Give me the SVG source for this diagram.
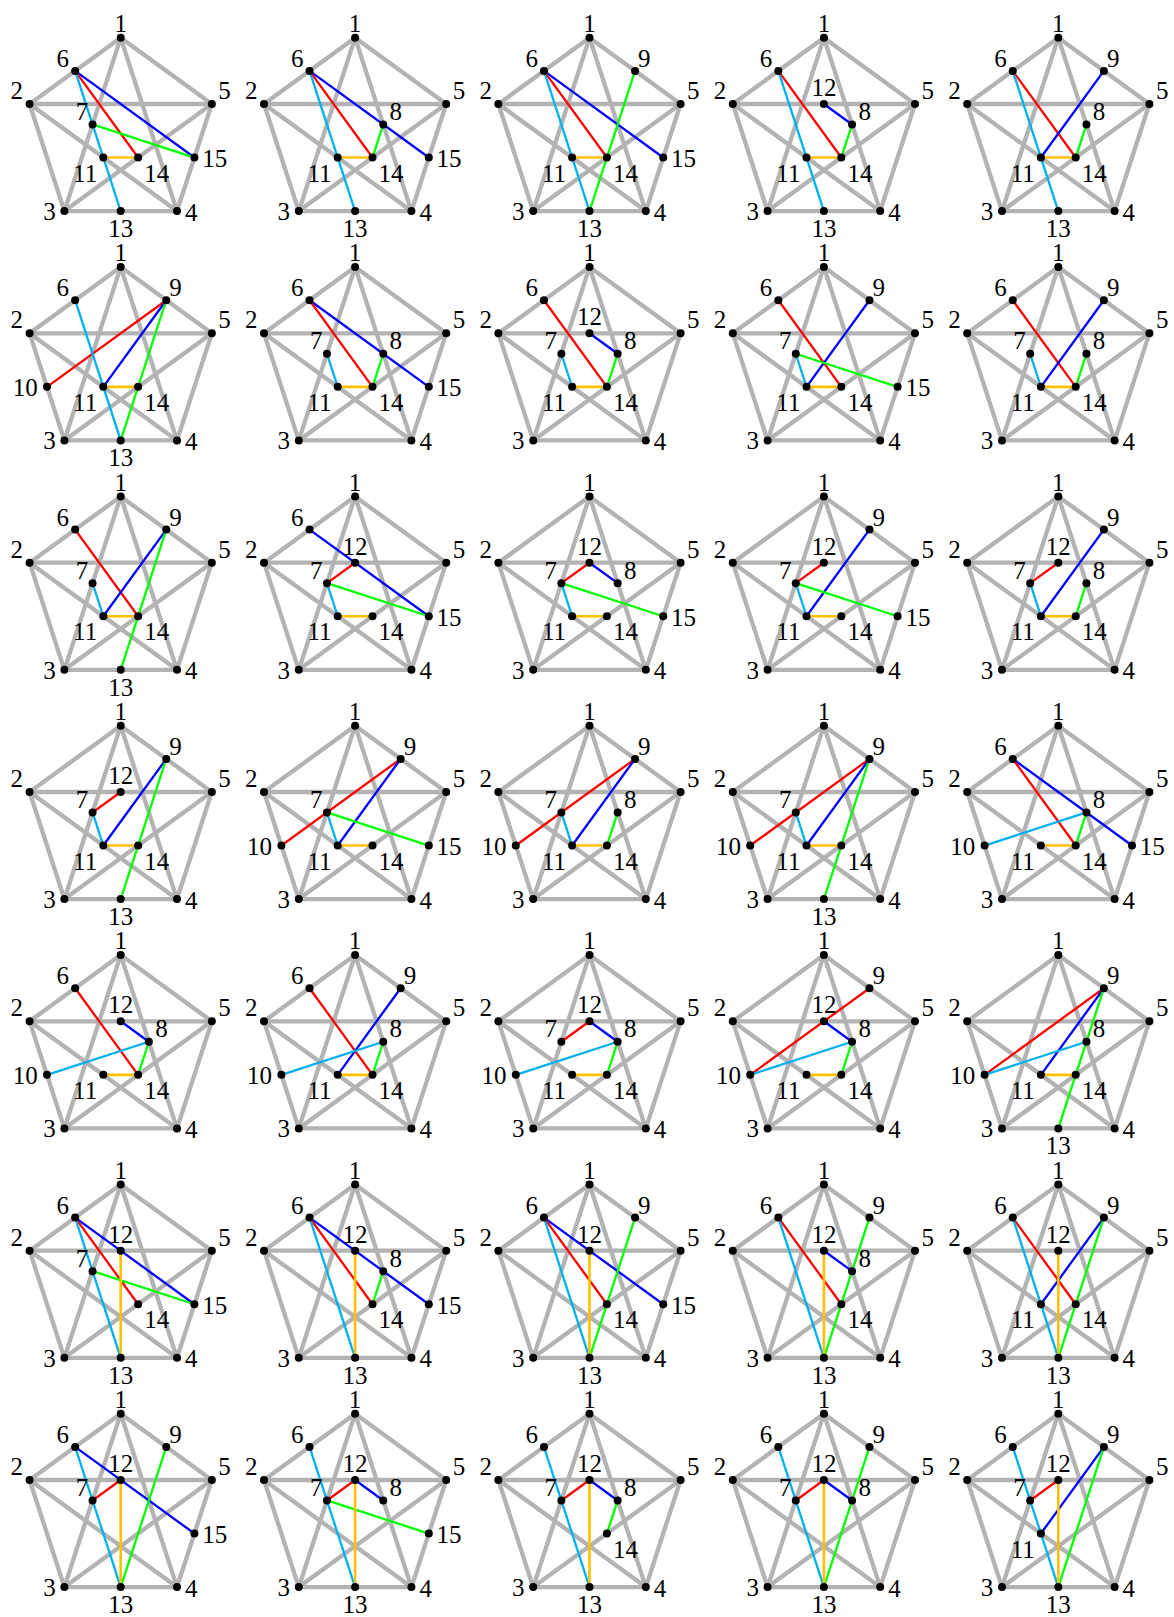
<svg xmlns="http://www.w3.org/2000/svg" xmlns:xlink="http://www.w3.org/1999/xlink" width="1174" height="1617" viewBox="0 0 1174 1617">
<style>
.gr{fill:none;stroke:#b3b3b3;stroke-width:4.3;stroke-linejoin:round}
circle{fill:#000}
text{font-family:"Liberation Serif","Times New Roman",serif;font-size:25px;fill:#000}
.s{text-anchor:start}.m{text-anchor:middle}.e{text-anchor:end}
line{stroke-width:2.3;fill:none}
.R{stroke:#ff0000}.B{stroke:#0000ff}.G{stroke:#00ff00}.C{stroke:#00b0f0}.O{stroke:#ffc000;stroke-width:2.6}
</style>
<defs>
<g id="base">
<polygon class="gr" points="0,-95.8 91.11,-29.6 56.31,77.5 -56.31,77.5 -91.11,-29.6"/>
<polygon class="gr" points="0,-95.8 56.31,77.5 -91.11,-29.6 91.11,-29.6 -56.31,77.5"/>
<circle cx="0" cy="-95.8" r="4"/><circle cx="91.11" cy="-29.6" r="4"/><circle cx="56.31" cy="77.5" r="4"/><circle cx="-56.31" cy="77.5" r="4"/><circle cx="-91.11" cy="-29.6" r="4"/>
</g>
</defs>
<rect width="1174" height="1617" fill="#fff"/>

<!-- Row 1 -->
<g id="r1c1" transform="translate(120.7,133.6)"><use href="#base"/>
<g id="r1c1-edges"><line class="B" x1="-45.56" y1="-62.7" x2="73.71" y2="23.95"/><line class="R" x1="-45.56" y1="-62.7" x2="17.4" y2="23.95"/><line class="C" x1="-45.56" y1="-62.7" x2="0" y2="77.5"/><line class="G" x1="-28.15" y1="-9.15" x2="73.71" y2="23.95"/><line class="O" x1="-17.4" y1="23.95" x2="17.4" y2="23.95"/></g>
<text class="m" x="0" y="-101.8">1</text><text class="e" x="-97.6" y="-34.6">2</text><text class="e" x="-65" y="86.5">3</text><text class="s" x="64.3" y="87">4</text><text class="s" x="97.6" y="-34.6">5</text>
<circle cx="-45.56" cy="-62.7" r="4"/><text class="e" x="-51.6" y="-66.7">6</text>
<circle cx="-28.15" cy="-9.15" r="4"/><text class="e" x="-32.5" y="-13.5">7</text>
<circle cx="-17.4" cy="23.95" r="4"/><text class="e" x="-23.5" y="48.2">11</text>
<circle cx="0" cy="77.5" r="4"/><text class="m" x="0" y="103.5">13</text>
<circle cx="17.4" cy="23.95" r="4"/><text class="s" x="23.5" y="48.2">14</text>
<circle cx="73.71" cy="23.95" r="4"/><text class="s" x="81.5" y="33.3">15</text>
</g>

<g id="r1c2" transform="translate(355.1,133.6)"><use href="#base"/>
<g id="r1c2-edges"><line class="B" x1="-45.56" y1="-62.7" x2="73.71" y2="23.95"/><line class="R" x1="-45.56" y1="-62.7" x2="17.4" y2="23.95"/><line class="C" x1="-45.56" y1="-62.7" x2="0" y2="77.5"/><line class="G" x1="28.15" y1="-9.15" x2="17.4" y2="23.95"/><line class="O" x1="-17.4" y1="23.95" x2="17.4" y2="23.95"/></g>
<text class="m" x="0" y="-101.8">1</text><text class="e" x="-97.6" y="-34.6">2</text><text class="e" x="-65" y="86.5">3</text><text class="s" x="64.3" y="87">4</text><text class="s" x="97.6" y="-34.6">5</text>
<circle cx="-45.56" cy="-62.7" r="4"/><text class="e" x="-51.6" y="-66.7">6</text>
<circle cx="28.15" cy="-9.15" r="4"/><text class="s" x="34.5" y="-13.8">8</text>
<circle cx="-17.4" cy="23.95" r="4"/><text class="e" x="-23.5" y="48.2">11</text>
<circle cx="0" cy="77.5" r="4"/><text class="m" x="0" y="103.5">13</text>
<circle cx="17.4" cy="23.95" r="4"/><text class="s" x="23.5" y="48.2">14</text>
<circle cx="73.71" cy="23.95" r="4"/><text class="s" x="81.5" y="33.3">15</text>
</g>

<g id="r1c3" transform="translate(589.5,133.6)"><use href="#base"/>
<g id="r1c3-edges"><line class="B" x1="-45.56" y1="-62.7" x2="73.71" y2="23.95"/><line class="R" x1="-45.56" y1="-62.7" x2="17.4" y2="23.95"/><line class="C" x1="-45.56" y1="-62.7" x2="0" y2="77.5"/><line class="G" x1="45.56" y1="-62.7" x2="0" y2="77.5"/><line class="O" x1="-17.4" y1="23.95" x2="17.4" y2="23.95"/></g>
<text class="m" x="0" y="-101.8">1</text><text class="e" x="-97.6" y="-34.6">2</text><text class="e" x="-65" y="86.5">3</text><text class="s" x="64.3" y="87">4</text><text class="s" x="97.6" y="-34.6">5</text>
<circle cx="-45.56" cy="-62.7" r="4"/><text class="e" x="-51.6" y="-66.7">6</text>
<circle cx="45.56" cy="-62.7" r="4"/><text class="s" x="48.6" y="-66.7">9</text>
<circle cx="-17.4" cy="23.95" r="4"/><text class="e" x="-23.5" y="48.2">11</text>
<circle cx="0" cy="77.5" r="4"/><text class="m" x="0" y="103.5">13</text>
<circle cx="17.4" cy="23.95" r="4"/><text class="s" x="23.5" y="48.2">14</text>
<circle cx="73.71" cy="23.95" r="4"/><text class="s" x="81.5" y="33.3">15</text>
</g>

<g id="r1c4" transform="translate(823.9,133.6)"><use href="#base"/>
<g id="r1c4-edges"><line class="R" x1="-45.56" y1="-62.7" x2="17.4" y2="23.95"/><line class="C" x1="-45.56" y1="-62.7" x2="0" y2="77.5"/><line class="B" x1="0" y1="-29.6" x2="28.15" y2="-9.15"/><line class="G" x1="28.15" y1="-9.15" x2="17.4" y2="23.95"/><line class="O" x1="-17.4" y1="23.95" x2="17.4" y2="23.95"/></g>
<text class="m" x="0" y="-101.8">1</text><text class="e" x="-97.6" y="-34.6">2</text><text class="e" x="-65" y="86.5">3</text><text class="s" x="64.3" y="87">4</text><text class="s" x="97.6" y="-34.6">5</text>
<circle cx="-45.56" cy="-62.7" r="4"/><text class="e" x="-51.6" y="-66.7">6</text>
<circle cx="28.15" cy="-9.15" r="4"/><text class="s" x="34.5" y="-13.8">8</text>
<circle cx="-17.4" cy="23.95" r="4"/><text class="e" x="-23.5" y="48.2">11</text>
<circle cx="0" cy="-29.6" r="4"/><text class="m" x="0" y="-37.6">12</text>
<circle cx="0" cy="77.5" r="4"/><text class="m" x="0" y="103.5">13</text>
<circle cx="17.4" cy="23.95" r="4"/><text class="s" x="23.5" y="48.2">14</text>
</g>

<g id="r1c5" transform="translate(1058.3,133.6)"><use href="#base"/>
<g id="r1c5-edges"><line class="R" x1="-45.56" y1="-62.7" x2="17.4" y2="23.95"/><line class="C" x1="-45.56" y1="-62.7" x2="0" y2="77.5"/><line class="B" x1="45.56" y1="-62.7" x2="-17.4" y2="23.95"/><line class="G" x1="28.15" y1="-9.15" x2="17.4" y2="23.95"/><line class="O" x1="-17.4" y1="23.95" x2="17.4" y2="23.95"/></g>
<text class="m" x="0" y="-101.8">1</text><text class="e" x="-97.6" y="-34.6">2</text><text class="e" x="-65" y="86.5">3</text><text class="s" x="64.3" y="87">4</text><text class="s" x="97.6" y="-34.6">5</text>
<circle cx="-45.56" cy="-62.7" r="4"/><text class="e" x="-51.6" y="-66.7">6</text>
<circle cx="28.15" cy="-9.15" r="4"/><text class="s" x="34.5" y="-13.8">8</text>
<circle cx="45.56" cy="-62.7" r="4"/><text class="s" x="48.6" y="-66.7">9</text>
<circle cx="-17.4" cy="23.95" r="4"/><text class="e" x="-23.5" y="48.2">11</text>
<circle cx="0" cy="77.5" r="4"/><text class="m" x="0" y="103.5">13</text>
<circle cx="17.4" cy="23.95" r="4"/><text class="s" x="23.5" y="48.2">14</text>
</g>

<!-- Row 2 -->
<g id="r2c1" transform="translate(120.7,362.9)"><use href="#base"/>
<g id="r2c1-edges"><line class="R" x1="-73.71" y1="23.95" x2="45.56" y2="-62.7"/><line class="C" x1="-45.56" y1="-62.7" x2="0" y2="77.5"/><line class="B" x1="45.56" y1="-62.7" x2="-17.4" y2="23.95"/><line class="G" x1="45.56" y1="-62.7" x2="0" y2="77.5"/><line class="O" x1="-17.4" y1="23.95" x2="17.4" y2="23.95"/></g>
<text class="m" x="0" y="-101.8">1</text><text class="e" x="-97.6" y="-34.6">2</text><text class="e" x="-65" y="86.5">3</text><text class="s" x="64.3" y="87">4</text><text class="s" x="97.6" y="-34.6">5</text>
<circle cx="-45.56" cy="-62.7" r="4"/><text class="e" x="-51.6" y="-66.7">6</text>
<circle cx="45.56" cy="-62.7" r="4"/><text class="s" x="48.6" y="-66.7">9</text>
<circle cx="-73.71" cy="23.95" r="4"/><text class="e" x="-83" y="33">10</text>
<circle cx="-17.4" cy="23.95" r="4"/><text class="e" x="-23.5" y="48.2">11</text>
<circle cx="0" cy="77.5" r="4"/><text class="m" x="0" y="103.5">13</text>
<circle cx="17.4" cy="23.95" r="4"/><text class="s" x="23.5" y="48.2">14</text>
</g>

<g id="r2c2" transform="translate(355.1,362.9)"><use href="#base"/>
<g id="r2c2-edges"><line class="B" x1="-45.56" y1="-62.7" x2="73.71" y2="23.95"/><line class="R" x1="-45.56" y1="-62.7" x2="17.4" y2="23.95"/><line class="C" x1="-28.15" y1="-9.15" x2="-17.4" y2="23.95"/><line class="G" x1="28.15" y1="-9.15" x2="17.4" y2="23.95"/><line class="O" x1="-17.4" y1="23.95" x2="17.4" y2="23.95"/></g>
<text class="m" x="0" y="-101.8">1</text><text class="e" x="-97.6" y="-34.6">2</text><text class="e" x="-65" y="86.5">3</text><text class="s" x="64.3" y="87">4</text><text class="s" x="97.6" y="-34.6">5</text>
<circle cx="-45.56" cy="-62.7" r="4"/><text class="e" x="-51.6" y="-66.7">6</text>
<circle cx="-28.15" cy="-9.15" r="4"/><text class="e" x="-32.5" y="-13.5">7</text>
<circle cx="28.15" cy="-9.15" r="4"/><text class="s" x="34.5" y="-13.8">8</text>
<circle cx="-17.4" cy="23.95" r="4"/><text class="e" x="-23.5" y="48.2">11</text>
<circle cx="17.4" cy="23.95" r="4"/><text class="s" x="23.5" y="48.2">14</text>
<circle cx="73.71" cy="23.95" r="4"/><text class="s" x="81.5" y="33.3">15</text>
</g>

<g id="r2c3" transform="translate(589.5,362.9)"><use href="#base"/>
<g id="r2c3-edges"><line class="R" x1="-45.56" y1="-62.7" x2="17.4" y2="23.95"/><line class="B" x1="0" y1="-29.6" x2="28.15" y2="-9.15"/><line class="C" x1="-28.15" y1="-9.15" x2="-17.4" y2="23.95"/><line class="G" x1="28.15" y1="-9.15" x2="17.4" y2="23.95"/><line class="O" x1="-17.4" y1="23.95" x2="17.4" y2="23.95"/></g>
<text class="m" x="0" y="-101.8">1</text><text class="e" x="-97.6" y="-34.6">2</text><text class="e" x="-65" y="86.5">3</text><text class="s" x="64.3" y="87">4</text><text class="s" x="97.6" y="-34.6">5</text>
<circle cx="-45.56" cy="-62.7" r="4"/><text class="e" x="-51.6" y="-66.7">6</text>
<circle cx="-28.15" cy="-9.15" r="4"/><text class="e" x="-32.5" y="-13.5">7</text>
<circle cx="28.15" cy="-9.15" r="4"/><text class="s" x="34.5" y="-13.8">8</text>
<circle cx="-17.4" cy="23.95" r="4"/><text class="e" x="-23.5" y="48.2">11</text>
<circle cx="0" cy="-29.6" r="4"/><text class="m" x="0" y="-37.6">12</text>
<circle cx="17.4" cy="23.95" r="4"/><text class="s" x="23.5" y="48.2">14</text>
</g>

<g id="r2c4" transform="translate(823.9,362.9)"><use href="#base"/>
<g id="r2c4-edges"><line class="R" x1="-45.56" y1="-62.7" x2="17.4" y2="23.95"/><line class="B" x1="45.56" y1="-62.7" x2="-17.4" y2="23.95"/><line class="C" x1="-28.15" y1="-9.15" x2="-17.4" y2="23.95"/><line class="G" x1="-28.15" y1="-9.15" x2="73.71" y2="23.95"/><line class="O" x1="-17.4" y1="23.95" x2="17.4" y2="23.95"/></g>
<text class="m" x="0" y="-101.8">1</text><text class="e" x="-97.6" y="-34.6">2</text><text class="e" x="-65" y="86.5">3</text><text class="s" x="64.3" y="87">4</text><text class="s" x="97.6" y="-34.6">5</text>
<circle cx="-45.56" cy="-62.7" r="4"/><text class="e" x="-51.6" y="-66.7">6</text>
<circle cx="-28.15" cy="-9.15" r="4"/><text class="e" x="-32.5" y="-13.5">7</text>
<circle cx="45.56" cy="-62.7" r="4"/><text class="s" x="48.6" y="-66.7">9</text>
<circle cx="-17.4" cy="23.95" r="4"/><text class="e" x="-23.5" y="48.2">11</text>
<circle cx="17.4" cy="23.95" r="4"/><text class="s" x="23.5" y="48.2">14</text>
<circle cx="73.71" cy="23.95" r="4"/><text class="s" x="81.5" y="33.3">15</text>
</g>

<g id="r2c5" transform="translate(1058.3,362.9)"><use href="#base"/>
<g id="r2c5-edges"><line class="R" x1="-45.56" y1="-62.7" x2="17.4" y2="23.95"/><line class="B" x1="45.56" y1="-62.7" x2="-17.4" y2="23.95"/><line class="C" x1="-28.15" y1="-9.15" x2="-17.4" y2="23.95"/><line class="G" x1="28.15" y1="-9.15" x2="17.4" y2="23.95"/><line class="O" x1="-17.4" y1="23.95" x2="17.4" y2="23.95"/></g>
<text class="m" x="0" y="-101.8">1</text><text class="e" x="-97.6" y="-34.6">2</text><text class="e" x="-65" y="86.5">3</text><text class="s" x="64.3" y="87">4</text><text class="s" x="97.6" y="-34.6">5</text>
<circle cx="-45.56" cy="-62.7" r="4"/><text class="e" x="-51.6" y="-66.7">6</text>
<circle cx="-28.15" cy="-9.15" r="4"/><text class="e" x="-32.5" y="-13.5">7</text>
<circle cx="28.15" cy="-9.15" r="4"/><text class="s" x="34.5" y="-13.8">8</text>
<circle cx="45.56" cy="-62.7" r="4"/><text class="s" x="48.6" y="-66.7">9</text>
<circle cx="-17.4" cy="23.95" r="4"/><text class="e" x="-23.5" y="48.2">11</text>
<circle cx="17.4" cy="23.95" r="4"/><text class="s" x="23.5" y="48.2">14</text>
</g>

<!-- Row 3 -->
<g id="r3c1" transform="translate(120.7,592.3)"><use href="#base"/>
<g id="r3c1-edges"><line class="R" x1="-45.56" y1="-62.7" x2="17.4" y2="23.95"/><line class="B" x1="45.56" y1="-62.7" x2="-17.4" y2="23.95"/><line class="C" x1="-28.15" y1="-9.15" x2="-17.4" y2="23.95"/><line class="G" x1="45.56" y1="-62.7" x2="0" y2="77.5"/><line class="O" x1="-17.4" y1="23.95" x2="17.4" y2="23.95"/></g>
<text class="m" x="0" y="-101.8">1</text><text class="e" x="-97.6" y="-34.6">2</text><text class="e" x="-65" y="86.5">3</text><text class="s" x="64.3" y="87">4</text><text class="s" x="97.6" y="-34.6">5</text>
<circle cx="-45.56" cy="-62.7" r="4"/><text class="e" x="-51.6" y="-66.7">6</text>
<circle cx="-28.15" cy="-9.15" r="4"/><text class="e" x="-32.5" y="-13.5">7</text>
<circle cx="45.56" cy="-62.7" r="4"/><text class="s" x="48.6" y="-66.7">9</text>
<circle cx="-17.4" cy="23.95" r="4"/><text class="e" x="-23.5" y="48.2">11</text>
<circle cx="0" cy="77.5" r="4"/><text class="m" x="0" y="103.5">13</text>
<circle cx="17.4" cy="23.95" r="4"/><text class="s" x="23.5" y="48.2">14</text>
</g>

<g id="r3c2" transform="translate(355.1,592.3)"><use href="#base"/>
<g id="r3c2-edges"><line class="B" x1="-45.56" y1="-62.7" x2="73.71" y2="23.95"/><line class="R" x1="-28.15" y1="-9.15" x2="0" y2="-29.6"/><line class="G" x1="-28.15" y1="-9.15" x2="73.71" y2="23.95"/><line class="C" x1="-28.15" y1="-9.15" x2="-17.4" y2="23.95"/><line class="O" x1="-17.4" y1="23.95" x2="17.4" y2="23.95"/></g>
<text class="m" x="0" y="-101.8">1</text><text class="e" x="-97.6" y="-34.6">2</text><text class="e" x="-65" y="86.5">3</text><text class="s" x="64.3" y="87">4</text><text class="s" x="97.6" y="-34.6">5</text>
<circle cx="-45.56" cy="-62.7" r="4"/><text class="e" x="-51.6" y="-66.7">6</text>
<circle cx="-28.15" cy="-9.15" r="4"/><text class="e" x="-32.5" y="-13.5">7</text>
<circle cx="-17.4" cy="23.95" r="4"/><text class="e" x="-23.5" y="48.2">11</text>
<circle cx="0" cy="-29.6" r="4"/><text class="m" x="0" y="-37.6">12</text>
<circle cx="17.4" cy="23.95" r="4"/><text class="s" x="23.5" y="48.2">14</text>
<circle cx="73.71" cy="23.95" r="4"/><text class="s" x="81.5" y="33.3">15</text>
</g>

<g id="r3c3" transform="translate(589.5,592.3)"><use href="#base"/>
<g id="r3c3-edges"><line class="R" x1="-28.15" y1="-9.15" x2="0" y2="-29.6"/><line class="B" x1="0" y1="-29.6" x2="28.15" y2="-9.15"/><line class="G" x1="-28.15" y1="-9.15" x2="73.71" y2="23.95"/><line class="C" x1="-28.15" y1="-9.15" x2="-17.4" y2="23.95"/><line class="O" x1="-17.4" y1="23.95" x2="17.4" y2="23.95"/></g>
<text class="m" x="0" y="-101.8">1</text><text class="e" x="-97.6" y="-34.6">2</text><text class="e" x="-65" y="86.5">3</text><text class="s" x="64.3" y="87">4</text><text class="s" x="97.6" y="-34.6">5</text>
<circle cx="-28.15" cy="-9.15" r="4"/><text class="e" x="-32.5" y="-13.5">7</text>
<circle cx="28.15" cy="-9.15" r="4"/><text class="s" x="34.5" y="-13.8">8</text>
<circle cx="-17.4" cy="23.95" r="4"/><text class="e" x="-23.5" y="48.2">11</text>
<circle cx="0" cy="-29.6" r="4"/><text class="m" x="0" y="-37.6">12</text>
<circle cx="17.4" cy="23.95" r="4"/><text class="s" x="23.5" y="48.2">14</text>
<circle cx="73.71" cy="23.95" r="4"/><text class="s" x="81.5" y="33.3">15</text>
</g>

<g id="r3c4" transform="translate(823.9,592.3)"><use href="#base"/>
<g id="r3c4-edges"><line class="R" x1="-28.15" y1="-9.15" x2="0" y2="-29.6"/><line class="B" x1="45.56" y1="-62.7" x2="-17.4" y2="23.95"/><line class="G" x1="-28.15" y1="-9.15" x2="73.71" y2="23.95"/><line class="C" x1="-28.15" y1="-9.15" x2="-17.4" y2="23.95"/><line class="O" x1="-17.4" y1="23.95" x2="17.4" y2="23.95"/></g>
<text class="m" x="0" y="-101.8">1</text><text class="e" x="-97.6" y="-34.6">2</text><text class="e" x="-65" y="86.5">3</text><text class="s" x="64.3" y="87">4</text><text class="s" x="97.6" y="-34.6">5</text>
<circle cx="-28.15" cy="-9.15" r="4"/><text class="e" x="-32.5" y="-13.5">7</text>
<circle cx="45.56" cy="-62.7" r="4"/><text class="s" x="48.6" y="-66.7">9</text>
<circle cx="-17.4" cy="23.95" r="4"/><text class="e" x="-23.5" y="48.2">11</text>
<circle cx="0" cy="-29.6" r="4"/><text class="m" x="0" y="-37.6">12</text>
<circle cx="17.4" cy="23.95" r="4"/><text class="s" x="23.5" y="48.2">14</text>
<circle cx="73.71" cy="23.95" r="4"/><text class="s" x="81.5" y="33.3">15</text>
</g>

<g id="r3c5" transform="translate(1058.3,592.3)"><use href="#base"/>
<g id="r3c5-edges"><line class="R" x1="-28.15" y1="-9.15" x2="0" y2="-29.6"/><line class="B" x1="45.56" y1="-62.7" x2="-17.4" y2="23.95"/><line class="G" x1="28.15" y1="-9.15" x2="17.4" y2="23.95"/><line class="C" x1="-28.15" y1="-9.15" x2="-17.4" y2="23.95"/><line class="O" x1="-17.4" y1="23.95" x2="17.4" y2="23.95"/></g>
<text class="m" x="0" y="-101.8">1</text><text class="e" x="-97.6" y="-34.6">2</text><text class="e" x="-65" y="86.5">3</text><text class="s" x="64.3" y="87">4</text><text class="s" x="97.6" y="-34.6">5</text>
<circle cx="-28.15" cy="-9.15" r="4"/><text class="e" x="-32.5" y="-13.5">7</text>
<circle cx="28.15" cy="-9.15" r="4"/><text class="s" x="34.5" y="-13.8">8</text>
<circle cx="45.56" cy="-62.7" r="4"/><text class="s" x="48.6" y="-66.7">9</text>
<circle cx="-17.4" cy="23.95" r="4"/><text class="e" x="-23.5" y="48.2">11</text>
<circle cx="0" cy="-29.6" r="4"/><text class="m" x="0" y="-37.6">12</text>
<circle cx="17.4" cy="23.95" r="4"/><text class="s" x="23.5" y="48.2">14</text>
</g>

<!-- Row 4 -->
<g id="r4c1" transform="translate(120.7,821.6)"><use href="#base"/>
<g id="r4c1-edges"><line class="R" x1="-28.15" y1="-9.15" x2="0" y2="-29.6"/><line class="B" x1="45.56" y1="-62.7" x2="-17.4" y2="23.95"/><line class="G" x1="45.56" y1="-62.7" x2="0" y2="77.5"/><line class="C" x1="-28.15" y1="-9.15" x2="-17.4" y2="23.95"/><line class="O" x1="-17.4" y1="23.95" x2="17.4" y2="23.95"/></g>
<text class="m" x="0" y="-101.8">1</text><text class="e" x="-97.6" y="-34.6">2</text><text class="e" x="-65" y="86.5">3</text><text class="s" x="64.3" y="87">4</text><text class="s" x="97.6" y="-34.6">5</text>
<circle cx="-28.15" cy="-9.15" r="4"/><text class="e" x="-32.5" y="-13.5">7</text>
<circle cx="45.56" cy="-62.7" r="4"/><text class="s" x="48.6" y="-66.7">9</text>
<circle cx="-17.4" cy="23.95" r="4"/><text class="e" x="-23.5" y="48.2">11</text>
<circle cx="0" cy="-29.6" r="4"/><text class="m" x="0" y="-37.6">12</text>
<circle cx="0" cy="77.5" r="4"/><text class="m" x="0" y="103.5">13</text>
<circle cx="17.4" cy="23.95" r="4"/><text class="s" x="23.5" y="48.2">14</text>
</g>

<g id="r4c2" transform="translate(355.1,821.6)"><use href="#base"/>
<g id="r4c2-edges"><line class="R" x1="-73.71" y1="23.95" x2="45.56" y2="-62.7"/><line class="B" x1="45.56" y1="-62.7" x2="-17.4" y2="23.95"/><line class="G" x1="-28.15" y1="-9.15" x2="73.71" y2="23.95"/><line class="C" x1="-28.15" y1="-9.15" x2="-17.4" y2="23.95"/><line class="O" x1="-17.4" y1="23.95" x2="17.4" y2="23.95"/></g>
<text class="m" x="0" y="-101.8">1</text><text class="e" x="-97.6" y="-34.6">2</text><text class="e" x="-65" y="86.5">3</text><text class="s" x="64.3" y="87">4</text><text class="s" x="97.6" y="-34.6">5</text>
<circle cx="-28.15" cy="-9.15" r="4"/><text class="e" x="-32.5" y="-13.5">7</text>
<circle cx="45.56" cy="-62.7" r="4"/><text class="s" x="48.6" y="-66.7">9</text>
<circle cx="-73.71" cy="23.95" r="4"/><text class="e" x="-83" y="33">10</text>
<circle cx="-17.4" cy="23.95" r="4"/><text class="e" x="-23.5" y="48.2">11</text>
<circle cx="17.4" cy="23.95" r="4"/><text class="s" x="23.5" y="48.2">14</text>
<circle cx="73.71" cy="23.95" r="4"/><text class="s" x="81.5" y="33.3">15</text>
</g>

<g id="r4c3" transform="translate(589.5,821.6)"><use href="#base"/>
<g id="r4c3-edges"><line class="R" x1="-73.71" y1="23.95" x2="45.56" y2="-62.7"/><line class="B" x1="45.56" y1="-62.7" x2="-17.4" y2="23.95"/><line class="G" x1="28.15" y1="-9.15" x2="17.4" y2="23.95"/><line class="C" x1="-28.15" y1="-9.15" x2="-17.4" y2="23.95"/><line class="O" x1="-17.4" y1="23.95" x2="17.4" y2="23.95"/></g>
<text class="m" x="0" y="-101.8">1</text><text class="e" x="-97.6" y="-34.6">2</text><text class="e" x="-65" y="86.5">3</text><text class="s" x="64.3" y="87">4</text><text class="s" x="97.6" y="-34.6">5</text>
<circle cx="-28.15" cy="-9.15" r="4"/><text class="e" x="-32.5" y="-13.5">7</text>
<circle cx="28.15" cy="-9.15" r="4"/><text class="s" x="34.5" y="-13.8">8</text>
<circle cx="45.56" cy="-62.7" r="4"/><text class="s" x="48.6" y="-66.7">9</text>
<circle cx="-73.71" cy="23.95" r="4"/><text class="e" x="-83" y="33">10</text>
<circle cx="-17.4" cy="23.95" r="4"/><text class="e" x="-23.5" y="48.2">11</text>
<circle cx="17.4" cy="23.95" r="4"/><text class="s" x="23.5" y="48.2">14</text>
</g>

<g id="r4c4" transform="translate(823.9,821.6)"><use href="#base"/>
<g id="r4c4-edges"><line class="R" x1="-73.71" y1="23.95" x2="45.56" y2="-62.7"/><line class="B" x1="45.56" y1="-62.7" x2="-17.4" y2="23.95"/><line class="G" x1="45.56" y1="-62.7" x2="0" y2="77.5"/><line class="C" x1="-28.15" y1="-9.15" x2="-17.4" y2="23.95"/><line class="O" x1="-17.4" y1="23.95" x2="17.4" y2="23.95"/></g>
<text class="m" x="0" y="-101.8">1</text><text class="e" x="-97.6" y="-34.6">2</text><text class="e" x="-65" y="86.5">3</text><text class="s" x="64.3" y="87">4</text><text class="s" x="97.6" y="-34.6">5</text>
<circle cx="-28.15" cy="-9.15" r="4"/><text class="e" x="-32.5" y="-13.5">7</text>
<circle cx="45.56" cy="-62.7" r="4"/><text class="s" x="48.6" y="-66.7">9</text>
<circle cx="-73.71" cy="23.95" r="4"/><text class="e" x="-83" y="33">10</text>
<circle cx="-17.4" cy="23.95" r="4"/><text class="e" x="-23.5" y="48.2">11</text>
<circle cx="0" cy="77.5" r="4"/><text class="m" x="0" y="103.5">13</text>
<circle cx="17.4" cy="23.95" r="4"/><text class="s" x="23.5" y="48.2">14</text>
</g>

<g id="r4c5" transform="translate(1058.3,821.6)"><use href="#base"/>
<g id="r4c5-edges"><line class="B" x1="-45.56" y1="-62.7" x2="73.71" y2="23.95"/><line class="R" x1="-45.56" y1="-62.7" x2="17.4" y2="23.95"/><line class="C" x1="-73.71" y1="23.95" x2="28.15" y2="-9.15"/><line class="G" x1="28.15" y1="-9.15" x2="17.4" y2="23.95"/><line class="O" x1="-17.4" y1="23.95" x2="17.4" y2="23.95"/></g>
<text class="m" x="0" y="-101.8">1</text><text class="e" x="-97.6" y="-34.6">2</text><text class="e" x="-65" y="86.5">3</text><text class="s" x="64.3" y="87">4</text><text class="s" x="97.6" y="-34.6">5</text>
<circle cx="-45.56" cy="-62.7" r="4"/><text class="e" x="-51.6" y="-66.7">6</text>
<circle cx="28.15" cy="-9.15" r="4"/><text class="s" x="34.5" y="-13.8">8</text>
<circle cx="-73.71" cy="23.95" r="4"/><text class="e" x="-83" y="33">10</text>
<circle cx="-17.4" cy="23.95" r="4"/><text class="e" x="-23.5" y="48.2">11</text>
<circle cx="17.4" cy="23.95" r="4"/><text class="s" x="23.5" y="48.2">14</text>
<circle cx="73.71" cy="23.95" r="4"/><text class="s" x="81.5" y="33.3">15</text>
</g>

<!-- Row 5 -->
<g id="r5c1" transform="translate(120.7,1050.9)"><use href="#base"/>
<g id="r5c1-edges"><line class="R" x1="-45.56" y1="-62.7" x2="17.4" y2="23.95"/><line class="B" x1="0" y1="-29.6" x2="28.15" y2="-9.15"/><line class="C" x1="-73.71" y1="23.95" x2="28.15" y2="-9.15"/><line class="G" x1="28.15" y1="-9.15" x2="17.4" y2="23.95"/><line class="O" x1="-17.4" y1="23.95" x2="17.4" y2="23.95"/></g>
<text class="m" x="0" y="-101.8">1</text><text class="e" x="-97.6" y="-34.6">2</text><text class="e" x="-65" y="86.5">3</text><text class="s" x="64.3" y="87">4</text><text class="s" x="97.6" y="-34.6">5</text>
<circle cx="-45.56" cy="-62.7" r="4"/><text class="e" x="-51.6" y="-66.7">6</text>
<circle cx="28.15" cy="-9.15" r="4"/><text class="s" x="34.5" y="-13.8">8</text>
<circle cx="-73.71" cy="23.95" r="4"/><text class="e" x="-83" y="33">10</text>
<circle cx="-17.4" cy="23.95" r="4"/><text class="e" x="-23.5" y="48.2">11</text>
<circle cx="0" cy="-29.6" r="4"/><text class="m" x="0" y="-37.6">12</text>
<circle cx="17.4" cy="23.95" r="4"/><text class="s" x="23.5" y="48.2">14</text>
</g>

<g id="r5c2" transform="translate(355.1,1050.9)"><use href="#base"/>
<g id="r5c2-edges"><line class="R" x1="-45.56" y1="-62.7" x2="17.4" y2="23.95"/><line class="B" x1="45.56" y1="-62.7" x2="-17.4" y2="23.95"/><line class="C" x1="-73.71" y1="23.95" x2="28.15" y2="-9.15"/><line class="G" x1="28.15" y1="-9.15" x2="17.4" y2="23.95"/><line class="O" x1="-17.4" y1="23.95" x2="17.4" y2="23.95"/></g>
<text class="m" x="0" y="-101.8">1</text><text class="e" x="-97.6" y="-34.6">2</text><text class="e" x="-65" y="86.5">3</text><text class="s" x="64.3" y="87">4</text><text class="s" x="97.6" y="-34.6">5</text>
<circle cx="-45.56" cy="-62.7" r="4"/><text class="e" x="-51.6" y="-66.7">6</text>
<circle cx="28.15" cy="-9.15" r="4"/><text class="s" x="34.5" y="-13.8">8</text>
<circle cx="45.56" cy="-62.7" r="4"/><text class="s" x="48.6" y="-66.7">9</text>
<circle cx="-73.71" cy="23.95" r="4"/><text class="e" x="-83" y="33">10</text>
<circle cx="-17.4" cy="23.95" r="4"/><text class="e" x="-23.5" y="48.2">11</text>
<circle cx="17.4" cy="23.95" r="4"/><text class="s" x="23.5" y="48.2">14</text>
</g>

<g id="r5c3" transform="translate(589.5,1050.9)"><use href="#base"/>
<g id="r5c3-edges"><line class="R" x1="-28.15" y1="-9.15" x2="0" y2="-29.6"/><line class="B" x1="0" y1="-29.6" x2="28.15" y2="-9.15"/><line class="C" x1="-73.71" y1="23.95" x2="28.15" y2="-9.15"/><line class="G" x1="28.15" y1="-9.15" x2="17.4" y2="23.95"/><line class="O" x1="-17.4" y1="23.95" x2="17.4" y2="23.95"/></g>
<text class="m" x="0" y="-101.8">1</text><text class="e" x="-97.6" y="-34.6">2</text><text class="e" x="-65" y="86.5">3</text><text class="s" x="64.3" y="87">4</text><text class="s" x="97.6" y="-34.6">5</text>
<circle cx="-28.15" cy="-9.15" r="4"/><text class="e" x="-32.5" y="-13.5">7</text>
<circle cx="28.15" cy="-9.15" r="4"/><text class="s" x="34.5" y="-13.8">8</text>
<circle cx="-73.71" cy="23.95" r="4"/><text class="e" x="-83" y="33">10</text>
<circle cx="-17.4" cy="23.95" r="4"/><text class="e" x="-23.5" y="48.2">11</text>
<circle cx="0" cy="-29.6" r="4"/><text class="m" x="0" y="-37.6">12</text>
<circle cx="17.4" cy="23.95" r="4"/><text class="s" x="23.5" y="48.2">14</text>
</g>

<g id="r5c4" transform="translate(823.9,1050.9)"><use href="#base"/>
<g id="r5c4-edges"><line class="R" x1="-73.71" y1="23.95" x2="45.56" y2="-62.7"/><line class="B" x1="0" y1="-29.6" x2="28.15" y2="-9.15"/><line class="C" x1="-73.71" y1="23.95" x2="28.15" y2="-9.15"/><line class="G" x1="28.15" y1="-9.15" x2="17.4" y2="23.95"/><line class="O" x1="-17.4" y1="23.95" x2="17.4" y2="23.95"/></g>
<text class="m" x="0" y="-101.8">1</text><text class="e" x="-97.6" y="-34.6">2</text><text class="e" x="-65" y="86.5">3</text><text class="s" x="64.3" y="87">4</text><text class="s" x="97.6" y="-34.6">5</text>
<circle cx="28.15" cy="-9.15" r="4"/><text class="s" x="34.5" y="-13.8">8</text>
<circle cx="45.56" cy="-62.7" r="4"/><text class="s" x="48.6" y="-66.7">9</text>
<circle cx="-73.71" cy="23.95" r="4"/><text class="e" x="-83" y="33">10</text>
<circle cx="-17.4" cy="23.95" r="4"/><text class="e" x="-23.5" y="48.2">11</text>
<circle cx="0" cy="-29.6" r="4"/><text class="m" x="0" y="-37.6">12</text>
<circle cx="17.4" cy="23.95" r="4"/><text class="s" x="23.5" y="48.2">14</text>
</g>

<g id="r5c5" transform="translate(1058.3,1050.9)"><use href="#base"/>
<g id="r5c5-edges"><line class="R" x1="-73.71" y1="23.95" x2="45.56" y2="-62.7"/><line class="B" x1="45.56" y1="-62.7" x2="-17.4" y2="23.95"/><line class="C" x1="-73.71" y1="23.95" x2="28.15" y2="-9.15"/><line class="G" x1="45.56" y1="-62.7" x2="0" y2="77.5"/><line class="O" x1="-17.4" y1="23.95" x2="17.4" y2="23.95"/></g>
<text class="m" x="0" y="-101.8">1</text><text class="e" x="-97.6" y="-34.6">2</text><text class="e" x="-65" y="86.5">3</text><text class="s" x="64.3" y="87">4</text><text class="s" x="97.6" y="-34.6">5</text>
<circle cx="28.15" cy="-9.15" r="4"/><text class="s" x="34.5" y="-13.8">8</text>
<circle cx="45.56" cy="-62.7" r="4"/><text class="s" x="48.6" y="-66.7">9</text>
<circle cx="-73.71" cy="23.95" r="4"/><text class="e" x="-83" y="33">10</text>
<circle cx="-17.4" cy="23.95" r="4"/><text class="e" x="-23.5" y="48.2">11</text>
<circle cx="0" cy="77.5" r="4"/><text class="m" x="0" y="103.5">13</text>
<circle cx="17.4" cy="23.95" r="4"/><text class="s" x="23.5" y="48.2">14</text>
</g>

<!-- Row 6 -->
<g id="r6c1" transform="translate(120.7,1280.3)"><use href="#base"/>
<g id="r6c1-edges"><line class="B" x1="-45.56" y1="-62.7" x2="73.71" y2="23.95"/><line class="R" x1="-45.56" y1="-62.7" x2="17.4" y2="23.95"/><line class="C" x1="-45.56" y1="-62.7" x2="0" y2="77.5"/><line class="G" x1="-28.15" y1="-9.15" x2="73.71" y2="23.95"/><line class="O" x1="0" y1="-29.6" x2="0" y2="77.5"/></g>
<text class="m" x="0" y="-101.8">1</text><text class="e" x="-97.6" y="-34.6">2</text><text class="e" x="-65" y="86.5">3</text><text class="s" x="64.3" y="87">4</text><text class="s" x="97.6" y="-34.6">5</text>
<circle cx="-45.56" cy="-62.7" r="4"/><text class="e" x="-51.6" y="-66.7">6</text>
<circle cx="-28.15" cy="-9.15" r="4"/><text class="e" x="-32.5" y="-13.5">7</text>
<circle cx="0" cy="-29.6" r="4"/><text class="m" x="0" y="-37.6">12</text>
<circle cx="0" cy="77.5" r="4"/><text class="m" x="0" y="103.5">13</text>
<circle cx="17.4" cy="23.95" r="4"/><text class="s" x="23.5" y="48.2">14</text>
<circle cx="73.71" cy="23.95" r="4"/><text class="s" x="81.5" y="33.3">15</text>
</g>

<g id="r6c2" transform="translate(355.1,1280.3)"><use href="#base"/>
<g id="r6c2-edges"><line class="B" x1="-45.56" y1="-62.7" x2="73.71" y2="23.95"/><line class="R" x1="-45.56" y1="-62.7" x2="17.4" y2="23.95"/><line class="C" x1="-45.56" y1="-62.7" x2="0" y2="77.5"/><line class="G" x1="28.15" y1="-9.15" x2="17.4" y2="23.95"/><line class="O" x1="0" y1="-29.6" x2="0" y2="77.5"/></g>
<text class="m" x="0" y="-101.8">1</text><text class="e" x="-97.6" y="-34.6">2</text><text class="e" x="-65" y="86.5">3</text><text class="s" x="64.3" y="87">4</text><text class="s" x="97.6" y="-34.6">5</text>
<circle cx="-45.56" cy="-62.7" r="4"/><text class="e" x="-51.6" y="-66.7">6</text>
<circle cx="28.15" cy="-9.15" r="4"/><text class="s" x="34.5" y="-13.8">8</text>
<circle cx="0" cy="-29.6" r="4"/><text class="m" x="0" y="-37.6">12</text>
<circle cx="0" cy="77.5" r="4"/><text class="m" x="0" y="103.5">13</text>
<circle cx="17.4" cy="23.95" r="4"/><text class="s" x="23.5" y="48.2">14</text>
<circle cx="73.71" cy="23.95" r="4"/><text class="s" x="81.5" y="33.3">15</text>
</g>

<g id="r6c3" transform="translate(589.5,1280.3)"><use href="#base"/>
<g id="r6c3-edges"><line class="B" x1="-45.56" y1="-62.7" x2="73.71" y2="23.95"/><line class="R" x1="-45.56" y1="-62.7" x2="17.4" y2="23.95"/><line class="C" x1="-45.56" y1="-62.7" x2="0" y2="77.5"/><line class="G" x1="45.56" y1="-62.7" x2="0" y2="77.5"/><line class="O" x1="0" y1="-29.6" x2="0" y2="77.5"/></g>
<text class="m" x="0" y="-101.8">1</text><text class="e" x="-97.6" y="-34.6">2</text><text class="e" x="-65" y="86.5">3</text><text class="s" x="64.3" y="87">4</text><text class="s" x="97.6" y="-34.6">5</text>
<circle cx="-45.56" cy="-62.7" r="4"/><text class="e" x="-51.6" y="-66.7">6</text>
<circle cx="45.56" cy="-62.7" r="4"/><text class="s" x="48.6" y="-66.7">9</text>
<circle cx="0" cy="-29.6" r="4"/><text class="m" x="0" y="-37.6">12</text>
<circle cx="0" cy="77.5" r="4"/><text class="m" x="0" y="103.5">13</text>
<circle cx="17.4" cy="23.95" r="4"/><text class="s" x="23.5" y="48.2">14</text>
<circle cx="73.71" cy="23.95" r="4"/><text class="s" x="81.5" y="33.3">15</text>
</g>

<g id="r6c4" transform="translate(823.9,1280.3)"><use href="#base"/>
<g id="r6c4-edges"><line class="R" x1="-45.56" y1="-62.7" x2="17.4" y2="23.95"/><line class="C" x1="-45.56" y1="-62.7" x2="0" y2="77.5"/><line class="B" x1="0" y1="-29.6" x2="28.15" y2="-9.15"/><line class="G" x1="45.56" y1="-62.7" x2="0" y2="77.5"/><line class="O" x1="0" y1="-29.6" x2="0" y2="77.5"/></g>
<text class="m" x="0" y="-101.8">1</text><text class="e" x="-97.6" y="-34.6">2</text><text class="e" x="-65" y="86.5">3</text><text class="s" x="64.3" y="87">4</text><text class="s" x="97.6" y="-34.6">5</text>
<circle cx="-45.56" cy="-62.7" r="4"/><text class="e" x="-51.6" y="-66.7">6</text>
<circle cx="28.15" cy="-9.15" r="4"/><text class="s" x="34.5" y="-13.8">8</text>
<circle cx="45.56" cy="-62.7" r="4"/><text class="s" x="48.6" y="-66.7">9</text>
<circle cx="0" cy="-29.6" r="4"/><text class="m" x="0" y="-37.6">12</text>
<circle cx="0" cy="77.5" r="4"/><text class="m" x="0" y="103.5">13</text>
<circle cx="17.4" cy="23.95" r="4"/><text class="s" x="23.5" y="48.2">14</text>
</g>

<g id="r6c5" transform="translate(1058.3,1280.3)"><use href="#base"/>
<g id="r6c5-edges"><line class="R" x1="-45.56" y1="-62.7" x2="17.4" y2="23.95"/><line class="C" x1="-45.56" y1="-62.7" x2="0" y2="77.5"/><line class="B" x1="45.56" y1="-62.7" x2="-17.4" y2="23.95"/><line class="G" x1="45.56" y1="-62.7" x2="0" y2="77.5"/><line class="O" x1="0" y1="-29.6" x2="0" y2="77.5"/></g>
<text class="m" x="0" y="-101.8">1</text><text class="e" x="-97.6" y="-34.6">2</text><text class="e" x="-65" y="86.5">3</text><text class="s" x="64.3" y="87">4</text><text class="s" x="97.6" y="-34.6">5</text>
<circle cx="-45.56" cy="-62.7" r="4"/><text class="e" x="-51.6" y="-66.7">6</text>
<circle cx="45.56" cy="-62.7" r="4"/><text class="s" x="48.6" y="-66.7">9</text>
<circle cx="-17.4" cy="23.95" r="4"/><text class="e" x="-23.5" y="48.2">11</text>
<circle cx="0" cy="-29.6" r="4"/><text class="m" x="0" y="-37.6">12</text>
<circle cx="0" cy="77.5" r="4"/><text class="m" x="0" y="103.5">13</text>
<circle cx="17.4" cy="23.95" r="4"/><text class="s" x="23.5" y="48.2">14</text>
</g>

<!-- Row 7 -->
<g id="r7c1" transform="translate(120.7,1509.6)"><use href="#base"/>
<g id="r7c1-edges"><line class="B" x1="-45.56" y1="-62.7" x2="73.71" y2="23.95"/><line class="R" x1="-28.15" y1="-9.15" x2="0" y2="-29.6"/><line class="C" x1="-45.56" y1="-62.7" x2="0" y2="77.5"/><line class="G" x1="45.56" y1="-62.7" x2="0" y2="77.5"/><line class="O" x1="0" y1="-29.6" x2="0" y2="77.5"/></g>
<text class="m" x="0" y="-101.8">1</text><text class="e" x="-97.6" y="-34.6">2</text><text class="e" x="-65" y="86.5">3</text><text class="s" x="64.3" y="87">4</text><text class="s" x="97.6" y="-34.6">5</text>
<circle cx="-45.56" cy="-62.7" r="4"/><text class="e" x="-51.6" y="-66.7">6</text>
<circle cx="-28.15" cy="-9.15" r="4"/><text class="e" x="-32.5" y="-13.5">7</text>
<circle cx="45.56" cy="-62.7" r="4"/><text class="s" x="48.6" y="-66.7">9</text>
<circle cx="0" cy="-29.6" r="4"/><text class="m" x="0" y="-37.6">12</text>
<circle cx="0" cy="77.5" r="4"/><text class="m" x="0" y="103.5">13</text>
<circle cx="73.71" cy="23.95" r="4"/><text class="s" x="81.5" y="33.3">15</text>
</g>

<g id="r7c2" transform="translate(355.1,1509.6)"><use href="#base"/>
<g id="r7c2-edges"><line class="R" x1="-28.15" y1="-9.15" x2="0" y2="-29.6"/><line class="B" x1="0" y1="-29.6" x2="28.15" y2="-9.15"/><line class="C" x1="-45.56" y1="-62.7" x2="0" y2="77.5"/><line class="G" x1="-28.15" y1="-9.15" x2="73.71" y2="23.95"/><line class="O" x1="0" y1="-29.6" x2="0" y2="77.5"/></g>
<text class="m" x="0" y="-101.8">1</text><text class="e" x="-97.6" y="-34.6">2</text><text class="e" x="-65" y="86.5">3</text><text class="s" x="64.3" y="87">4</text><text class="s" x="97.6" y="-34.6">5</text>
<circle cx="-45.56" cy="-62.7" r="4"/><text class="e" x="-51.6" y="-66.7">6</text>
<circle cx="-28.15" cy="-9.15" r="4"/><text class="e" x="-32.5" y="-13.5">7</text>
<circle cx="28.15" cy="-9.15" r="4"/><text class="s" x="34.5" y="-13.8">8</text>
<circle cx="0" cy="-29.6" r="4"/><text class="m" x="0" y="-37.6">12</text>
<circle cx="0" cy="77.5" r="4"/><text class="m" x="0" y="103.5">13</text>
<circle cx="73.71" cy="23.95" r="4"/><text class="s" x="81.5" y="33.3">15</text>
</g>

<g id="r7c3" transform="translate(589.5,1509.6)"><use href="#base"/>
<g id="r7c3-edges"><line class="R" x1="-28.15" y1="-9.15" x2="0" y2="-29.6"/><line class="B" x1="0" y1="-29.6" x2="28.15" y2="-9.15"/><line class="C" x1="-45.56" y1="-62.7" x2="0" y2="77.5"/><line class="G" x1="28.15" y1="-9.15" x2="17.4" y2="23.95"/><line class="O" x1="0" y1="-29.6" x2="0" y2="77.5"/></g>
<text class="m" x="0" y="-101.8">1</text><text class="e" x="-97.6" y="-34.6">2</text><text class="e" x="-65" y="86.5">3</text><text class="s" x="64.3" y="87">4</text><text class="s" x="97.6" y="-34.6">5</text>
<circle cx="-45.56" cy="-62.7" r="4"/><text class="e" x="-51.6" y="-66.7">6</text>
<circle cx="-28.15" cy="-9.15" r="4"/><text class="e" x="-32.5" y="-13.5">7</text>
<circle cx="28.15" cy="-9.15" r="4"/><text class="s" x="34.5" y="-13.8">8</text>
<circle cx="0" cy="-29.6" r="4"/><text class="m" x="0" y="-37.6">12</text>
<circle cx="0" cy="77.5" r="4"/><text class="m" x="0" y="103.5">13</text>
<circle cx="17.4" cy="23.95" r="4"/><text class="s" x="23.5" y="48.2">14</text>
</g>

<g id="r7c4" transform="translate(823.9,1509.6)"><use href="#base"/>
<g id="r7c4-edges"><line class="R" x1="-28.15" y1="-9.15" x2="0" y2="-29.6"/><line class="B" x1="0" y1="-29.6" x2="28.15" y2="-9.15"/><line class="C" x1="-45.56" y1="-62.7" x2="0" y2="77.5"/><line class="G" x1="45.56" y1="-62.7" x2="0" y2="77.5"/><line class="O" x1="0" y1="-29.6" x2="0" y2="77.5"/></g>
<text class="m" x="0" y="-101.8">1</text><text class="e" x="-97.6" y="-34.6">2</text><text class="e" x="-65" y="86.5">3</text><text class="s" x="64.3" y="87">4</text><text class="s" x="97.6" y="-34.6">5</text>
<circle cx="-45.56" cy="-62.7" r="4"/><text class="e" x="-51.6" y="-66.7">6</text>
<circle cx="-28.15" cy="-9.15" r="4"/><text class="e" x="-32.5" y="-13.5">7</text>
<circle cx="28.15" cy="-9.15" r="4"/><text class="s" x="34.5" y="-13.8">8</text>
<circle cx="45.56" cy="-62.7" r="4"/><text class="s" x="48.6" y="-66.7">9</text>
<circle cx="0" cy="-29.6" r="4"/><text class="m" x="0" y="-37.6">12</text>
<circle cx="0" cy="77.5" r="4"/><text class="m" x="0" y="103.5">13</text>
</g>

<g id="r7c5" transform="translate(1058.3,1509.6)"><use href="#base"/>
<g id="r7c5-edges"><line class="R" x1="-28.15" y1="-9.15" x2="0" y2="-29.6"/><line class="B" x1="45.56" y1="-62.7" x2="-17.4" y2="23.95"/><line class="C" x1="-45.56" y1="-62.7" x2="0" y2="77.5"/><line class="G" x1="45.56" y1="-62.7" x2="0" y2="77.5"/><line class="O" x1="0" y1="-29.6" x2="0" y2="77.5"/></g>
<text class="m" x="0" y="-101.8">1</text><text class="e" x="-97.6" y="-34.6">2</text><text class="e" x="-65" y="86.5">3</text><text class="s" x="64.3" y="87">4</text><text class="s" x="97.6" y="-34.6">5</text>
<circle cx="-45.56" cy="-62.7" r="4"/><text class="e" x="-51.6" y="-66.7">6</text>
<circle cx="-28.15" cy="-9.15" r="4"/><text class="e" x="-32.5" y="-13.5">7</text>
<circle cx="45.56" cy="-62.7" r="4"/><text class="s" x="48.6" y="-66.7">9</text>
<circle cx="-17.4" cy="23.95" r="4"/><text class="e" x="-23.5" y="48.2">11</text>
<circle cx="0" cy="-29.6" r="4"/><text class="m" x="0" y="-37.6">12</text>
<circle cx="0" cy="77.5" r="4"/><text class="m" x="0" y="103.5">13</text>
</g>
</svg>
